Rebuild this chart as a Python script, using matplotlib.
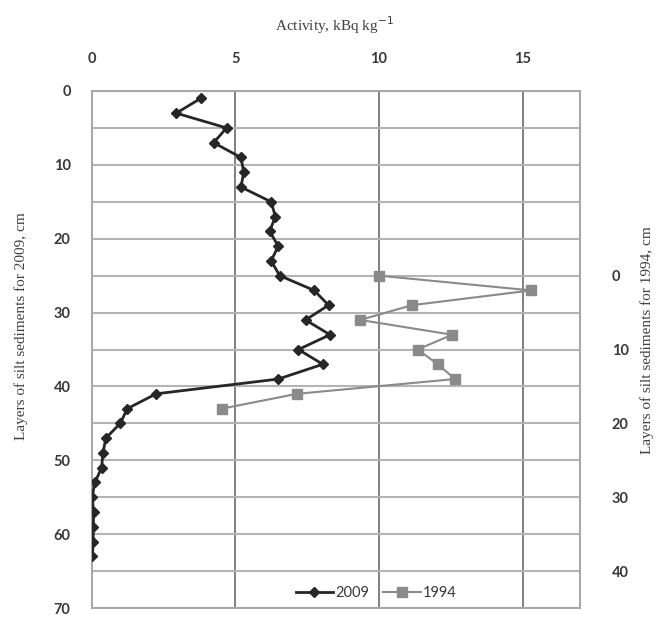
import matplotlib.pyplot as plt
import numpy as np

# activity profiles, kBq/kg vs layer depth, cm
depth_2009 = [1, 3, 5, 7, 9, 11, 13, 15, 17, 19, 21, 23, 25, 27, 29, 31,
              33, 35, 37, 39, 41, 43, 45, 47, 49, 51, 53, 55, 57, 59, 61, 63]
act_2009 = [3.8, 2.95, 4.7, 4.25, 5.2, 5.3, 5.2, 6.25, 6.4, 6.2, 6.5, 6.25,
            6.55, 7.75, 8.25, 7.45, 8.3, 7.2, 8.05, 6.5, 2.25, 1.25, 1.0, 0.5,
            0.4, 0.35, 0.12, 0.02, 0.08, 0.06, 0.06, 0.03]

depth_1994 = [0, 2, 4, 6, 8, 10, 12, 14, 16, 18]
act_1994 = [10.0, 15.3, 11.15, 9.35, 12.55, 11.35, 12.05, 12.65, 7.15, 4.55]

x_ticks = [0, 5, 10, 15]
left_ticks = list(range(0, 71, 10))
right_ticks = list(range(0, 41, 10))

sans = 'Lato'
serif = 'Liberation Serif'

fig = plt.figure(figsize=(6.59, 6.22), dpi=100)
ax = fig.add_axes([91.5/659, 1-608/622, (580-91.5)/659, (608-91)/622])

ax.set_xlim(0, 17)
ax.set_ylim(70, 0)
ax.xaxis.tick_top()
ax.set_xticks(x_ticks)
ax.set_yticks(left_ticks)
ax.set_yticks(range(5, 70, 10), minor=True)
ax.tick_params(axis='both', which='both', length=0, labelsize=10.5, colors='#383838')
ax.tick_params(axis='y', pad=15)
ax.tick_params(axis='x', pad=18)
for lab in ax.get_xticklabels() + ax.get_yticklabels():
    lab.set_family(sans)
    lab.set_fontweight('bold')

ax.grid(axis='y', which='both', color='#b4b4b4', lw=1.5)
ax.grid(axis='x', which='major', color='#808080', lw=1.4)
ax.set_axisbelow(True)
for s in ax.spines.values():
    s.set_color('#a8a8a8')
    s.set_linewidth(1.5)

l1, = ax.plot(act_2009, depth_2009, color='#262626', lw=2, marker='D',
              ms=5.5, label='2009', zorder=4)

ax2 = ax.twinx()
ax2.set_ylim(45, -25)
ax2.set_yticks(right_ticks)
ax2.tick_params(axis='y', length=0, labelsize=10.5, colors='#383838', pad=23)
for lab in ax2.get_yticklabels():
    lab.set_family(sans)
    lab.set_fontweight('bold')
for s in ax2.spines.values():
    s.set_visible(False)

l2, = ax2.plot(act_1994, depth_1994, color='#8a8a8a', lw=1.5, marker='s',
               ms=7, label='1994', zorder=3)

fig.text(334/659, 1-25/622, 'Activity, kBq kg$^{-1}$', ha='center', va='center',
         family=serif, fontsize=11, color='#404040')
fig.text(21/659, 1-326/622, 'Layers of silt sediments for 2009, cm', rotation=90,
         ha='center', va='center', family=serif, fontsize=11, color='#404040')
fig.text(647/659, 1-340/622, 'Layers of silt sediments for 1994, cm', rotation=90,
         ha='center', va='center', family=serif, fontsize=11, color='#404040')

leg = fig.legend(handles=[l1, l2], loc='center', bbox_to_anchor=(376/659, 1-593/622),
                 ncol=2, frameon=False, handlelength=2.6, columnspacing=1.0,
                 handletextpad=0.1, prop={'family': sans, 'size': 10.5})
for t in leg.get_texts():
    t.set_color('#383838')

fig.savefig('out.png', dpi=100)
